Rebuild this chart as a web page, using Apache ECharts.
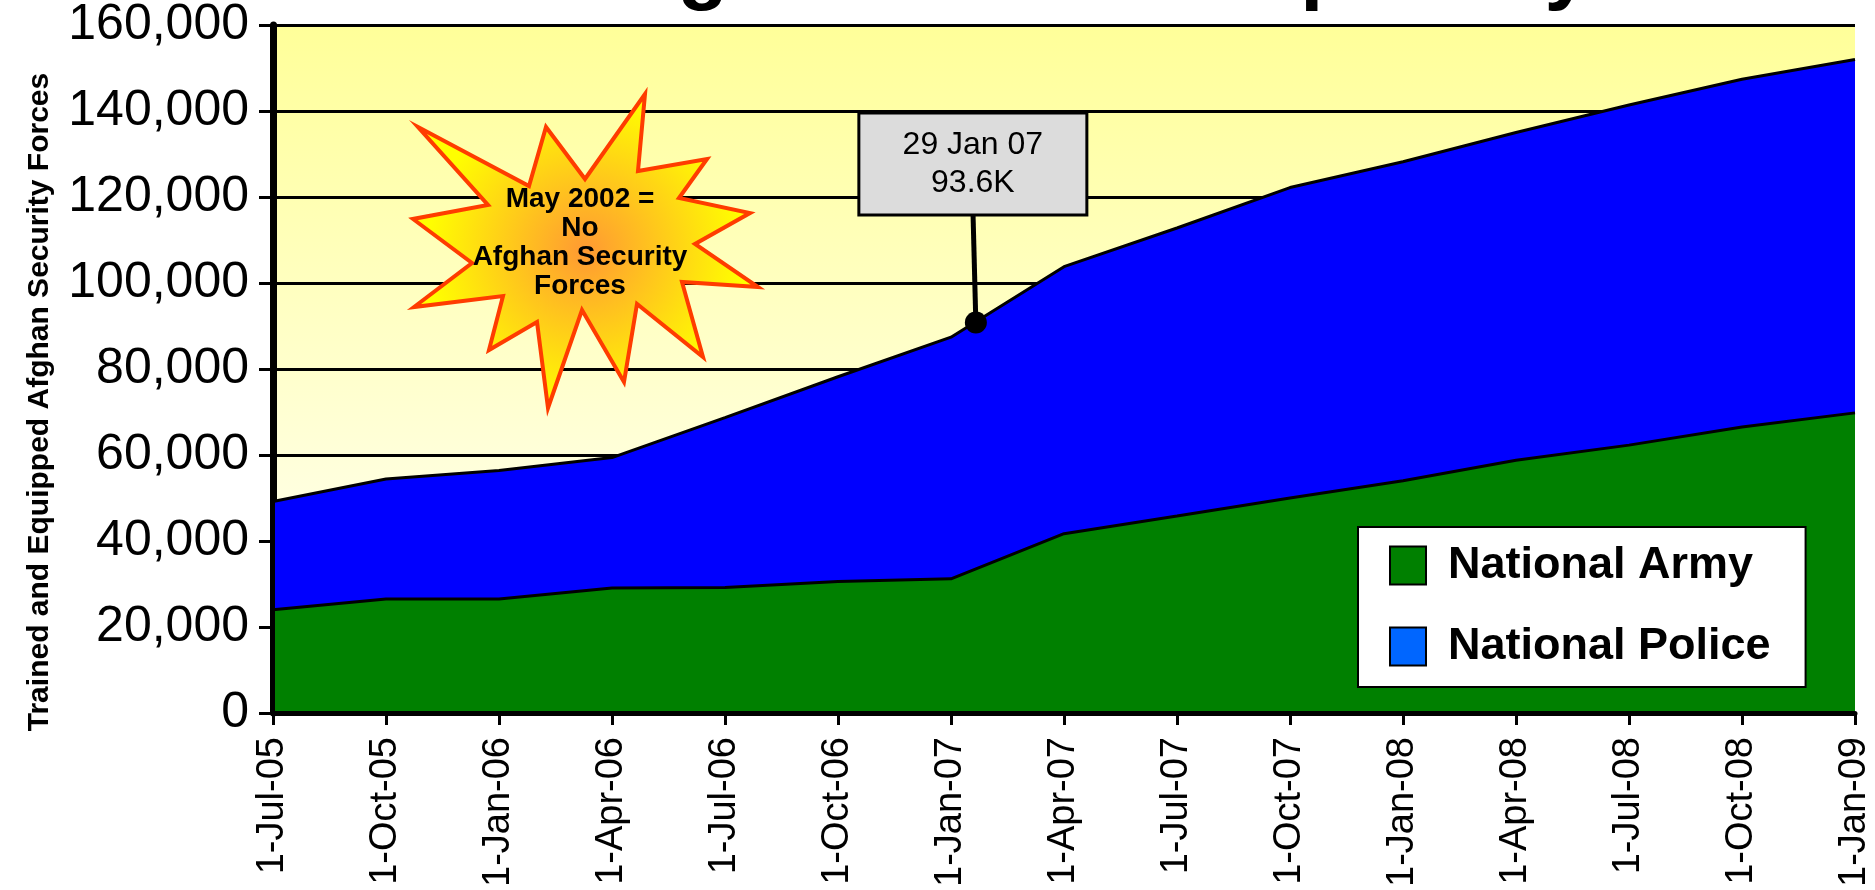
<!DOCTYPE html>
<html>
<head>
<meta charset="utf-8">
<title>Trained and Equipped Afghan Security Forces</title>
<script src="https://cdn.jsdelivr.net/npm/echarts@6/dist/echarts.min.js"></script>
<style>
  html, body { margin: 0; padding: 0; background: #fff; }
  #chart { width: 1875px; height: 890px; }
</style>
</head>
<body>
<div id="chart"></div>
<script>
// quarter starts on the x axis
const dateLabels = ['1-Jul-05', '1-Oct-05', '1-Jan-06', '1-Apr-06', '1-Jul-06', '1-Oct-06', '1-Jan-07',
  '1-Apr-07', '1-Jul-07', '1-Oct-07', '1-Jan-08', '1-Apr-08', '1-Jul-08', '1-Oct-08', '1-Jan-09']
const armyValues = [24000, 26500, 26500, 29100, 29200, 30600, 31200,
  41700, 45800, 50000, 54000, 58800, 62300, 66500, 69800]
const policeValues = [25200, 27900, 29900, 30300, 39500, 47600, 56200,
  62100, 67000, 72200, 74200, 76200, 79100, 80900, 82200]

// 29 Jan 07 callout: point on the total line, stem up to the box
const calloutPoint = [6.22, 90800]
const calloutStem = [[6.22, 90800], [6.195, 116000]]
const calloutText = ['29 Jan 07', '93.6K']

const burstText = ['May 2002 =', 'No', 'Afghan Security', 'Forces']
const titleText = 'Afghan Forces Capability'
const yTitle = 'Trained and Equipped Afghan Security Forces'

const FONT = '"Liberation Sans", Arial, sans-serif'

// starburst outline, page pixels
const burstShape = [
  [418, 127], [529, 186], [546, 127], [585, 179], [645, 94], [638, 171],
  [707, 159], [679, 198], [750, 213], [695, 244], [758, 287], [682, 282],
  [703, 357], [637, 304], [624, 382], [582, 310], [548, 408], [537, 322],
  [489, 350], [503, 296], [414, 307], [472, 263], [413, 219], [488, 205]
]

// police sits on top of army
const totalValues = armyValues.map((v, i) => v + policeValues[i])

const chart = echarts.init(document.getElementById('chart'))

chart.setOption({
  animation: false,
  backgroundColor: '#fff',
  grid: {
    left: 273, right: 20, top: 25, bottom: 166,
    show: true, borderWidth: 0,
    backgroundColor: new echarts.graphic.LinearGradient(0, 0, 0, 1, [
      { offset: 0, color: '#ffff99' }, { offset: 1, color: '#ffffff' }
    ])
  },
  xAxis: [{
    type: 'value', min: 0, max: 14, interval: 1, position: 'bottom', z: 5,
    axisLine: { lineStyle: { color: '#000', width: 5 } },
    axisTick: { length: 12, lineStyle: { color: '#000', width: 3 } },
    axisLabel: {
      rotate: 90, margin: 24, color: '#000', fontSize: 38, fontFamily: FONT,
      formatter: v => dateLabels[v] || ''
    },
    splitLine: { show: false }
  }, {
    type: 'value', min: 0, max: 14, interval: 1, position: 'top', z: 5,
    axisLine: { lineStyle: { color: '#000', width: 3 } },
    axisTick: { show: false }, axisLabel: { show: false }, splitLine: { show: false }
  }],
  yAxis: [{
    type: 'value', min: 0, max: 160000, interval: 20000, position: 'left', z: 5,
    axisLine: { show: true, lineStyle: { color: '#000', width: 4 } },
    axisTick: { show: true, length: 14, lineStyle: { color: '#000', width: 3 } },
    axisLabel: {
      margin: 24, color: '#000', fontSize: 50, fontFamily: FONT,
      formatter: v => v.toLocaleString('en-US')
    },
    splitLine: { show: false }
  }, {
    type: 'value', min: 0, max: 160000, interval: 20000, position: 'right', z: 0,
    axisLine: { show: true, lineStyle: { color: '#000', width: 7 } },
    axisTick: { show: false }, axisLabel: { show: false },
    splitLine: { show: true, lineStyle: { color: '#000', width: 3 } }
  }],
  legend: {
    orient: 'vertical', left: 1358, top: 527,
    padding: [16, 35, 18, 31],
    backgroundColor: '#fff', borderColor: '#000', borderWidth: 2,
    itemWidth: 36, itemHeight: 38, itemGap: 36,
    icon: 'rect', selectedMode: false,
    itemStyle: { borderColor: '#000', borderWidth: 2 },
    textStyle: {
      color: '#000', fontFamily: FONT, fontWeight: 'bold', fontSize: 45,
      lineHeight: 38, padding: [0, 0, 0, 17]
    },
    data: [
      { name: 'National Army', itemStyle: { color: '#008000' } },
      { name: 'National Police', itemStyle: { color: '#0066ff' } }
    ]
  },
  series: [
    {
      name: 'National Police', type: 'line', z: 2,
      data: totalValues.map((v, i) => [i, v]),
      symbol: 'none', color: '#0000ff',
      lineStyle: { color: '#000', width: 3 },
      areaStyle: { color: '#0000ff', opacity: 1 }
    },
    {
      name: 'National Army', type: 'line', z: 2,
      data: armyValues.map((v, i) => [i, v]),
      symbol: 'none', color: '#008000',
      lineStyle: { color: '#000', width: 3 },
      areaStyle: { color: '#008000', opacity: 1 }
    },
    {
      name: 'stem', type: 'line', z: 6, data: calloutStem,
      symbol: 'none', silent: true, clip: false,
      lineStyle: { color: '#000', width: 5 }
    },
    {
      name: 'callout', type: 'scatter', z: 7, data: [calloutPoint],
      symbolSize: 22, itemStyle: { color: '#000', opacity: 1 }, clip: false,
      label: {
        show: true, position: 'top', distance: 98, offset: [-3, 0], opacity: 1,
        formatter: () => calloutText.join('\n'),
        color: '#000', fontFamily: FONT, fontSize: 32, lineHeight: 38,
        width: 225, align: 'center',
        backgroundColor: '#dcdcdc', borderColor: '#000', borderWidth: 3,
        padding: [12, 0, 11, 0]
      }
    }
  ],
  graphic: [
    {
      type: 'text', x: 590, y: -29, z: 10,
      style: {
        text: titleText, fill: '#000', font: 'bold 83px ' + FONT,
        textAlign: 'left', textVerticalAlign: 'middle'
      }
    },
    {
      type: 'text', x: 40, y: 402, rotation: Math.PI / 2, z: 10,
      style: {
        text: yTitle, fill: '#000', font: 'bold 30px ' + FONT,
        textAlign: 'center', textVerticalAlign: 'middle'
      }
    },
    {
      type: 'polygon', z: 20,
      shape: { points: burstShape },
      style: {
        fill: new echarts.graphic.RadialGradient(0.5, 0.5, 0.5, [
          { offset: 0, color: '#ff9933' }, { offset: 1, color: '#ffff00' }
        ]),
        stroke: '#ff3c00', lineWidth: 4, lineJoin: 'miter'
      }
    },
    {
      type: 'text', x: 580, y: 243, z: 21,
      style: {
        text: burstText.join('\n'), fill: '#000', font: 'bold 28px ' + FONT,
        lineHeight: 29, textAlign: 'center', textVerticalAlign: 'middle'
      }
    }
  ]
})
</script>
</body>
</html>
